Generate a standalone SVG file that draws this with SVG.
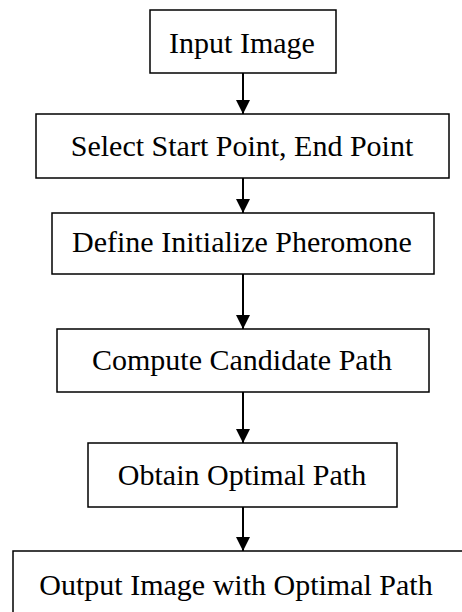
<svg xmlns="http://www.w3.org/2000/svg" width="462" height="612" viewBox="0 0 462 612">
<style>
.box{fill:#fff;stroke:#000;stroke-width:1.5}
.lbl{font-family:"Liberation Serif","Times New Roman",serif;font-size:30px;fill:#000;text-anchor:middle}
.edge{stroke:#000;stroke-width:2;fill:none}
</style>
<defs>
<marker id="ah" markerUnits="userSpaceOnUse" markerWidth="14" markerHeight="14" refX="14" refY="7" orient="auto">
<path d="M0,0 L14,7 L0,14 Z" fill="#000"/>
</marker>
</defs>
<rect width="462" height="612" fill="#fff"/>
<g id="edges">
<line class="edge" x1="243" y1="73" x2="243" y2="114" marker-end="url(#ah)"/>
<line class="edge" x1="243" y1="178" x2="243" y2="213" marker-end="url(#ah)"/>
<line class="edge" x1="243" y1="274" x2="243" y2="329" marker-end="url(#ah)"/>
<line class="edge" x1="243" y1="392" x2="243" y2="443" marker-end="url(#ah)"/>
<line class="edge" x1="243" y1="507" x2="243" y2="551" marker-end="url(#ah)"/>
</g>
<g id="n1"><rect class="box" x="150" y="10" width="186" height="63"/><text class="lbl" x="242" y="53">Input Image</text></g>
<g id="n2"><rect class="box" x="36" y="114" width="413" height="64"/><text class="lbl" x="242" y="156">Select Start Point, End Point</text></g>
<g id="n3"><rect class="box" x="52" y="213" width="382" height="61"/><text class="lbl" x="242" y="252">Define Initialize Pheromone</text></g>
<g id="n4"><rect class="box" x="57" y="329" width="372" height="63"/><text class="lbl" x="242" y="370">Compute Candidate Path</text></g>
<g id="n5"><rect class="box" x="88" y="443" width="309" height="64"/><text class="lbl" x="242" y="485">Obtain Optimal Path</text></g>
<g id="n6"><rect class="box" x="13" y="551" width="460" height="70"/><text class="lbl" x="236" y="595">Output Image with Optimal Path</text></g>
</svg>
